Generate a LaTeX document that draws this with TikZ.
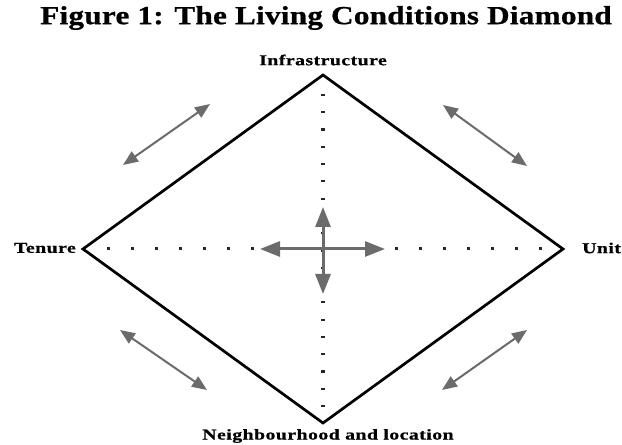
\documentclass[tikz,border=0pt]{standalone}
\usepackage{fontspec}
\setmainfont{Liberation Serif}
\newfontfamily\lblfont{Liberation Serif}[FakeStretch=1.32, LetterSpace=3, FakeBold=0.8]
\newfontfamily\ttlfont{Liberation Serif}[FakeStretch=1.2, LetterSpace=1, FakeBold=0.8]
\usetikzlibrary{arrows.meta}
\definecolor{arrgray}{HTML}{6B6B6B}
\tikzset{
  edgeline/.style={line width=2.7pt, black, line join=miter},
  bigarrow/.style={arrgray, line width=3pt, {Triangle[length=20pt,width=15pt]}-{Triangle[length=20pt,width=15pt]}},
  diagarrow/.style={arrgray, line width=2pt, {Triangle[length=15pt,width=12pt]}-{Triangle[length=15pt,width=12pt]}},
  vlabel/.style={font=\lblfont\bfseries\fontsize{15}{17}\selectfont, inner sep=0pt},
  titlelabel/.style={font=\ttlfont\bfseries\fontsize{26}{30}\selectfont, inner sep=0pt},
  hdot/.style={fill=black!85, minimum width=3pt, minimum height=3pt, inner sep=0pt, draw=none},
  vdot/.style={fill=black!85, minimum width=4pt, minimum height=2.2pt, inner sep=0pt, draw=none}
}
\begin{document}
\begin{tikzpicture}[x=1pt,y=1pt]
\useasboundingbox (0,0) rectangle (622,445);
% title
\node[titlelabel] (title) at (326,427) {Figure 1: The Living Conditions Diamond};
% diamond vertices
\coordinate (T) at (323,370);
\coordinate (B) at (323,22);
\coordinate (L) at (83,196);
\coordinate (R) at (563,196);
% labels
\node[vlabel] (infra) at (323,385) {Infrastructure};
\node[vlabel, anchor=east] (tenure) at (76,197) {Tenure};
\node[vlabel, anchor=west] (unit) at (582,197) {Unit};
\node[vlabel] (neigh) at (328,9) {Neighbourhood and location};
% dotted lines
\foreach \i in {0,...,18} {
  \node[hdot] (h\i) at ({108+24*\i},196) {};
  \node[vdot] (v\i) at (323,{350-17.28*\i}) {};
}
% diamond
\draw[edgeline] (T) -- (R) -- (B) -- (L) -- cycle;
% centre arrows
\coordinate (cl) at (260,196);
\coordinate (cr) at (385,196);
\coordinate (ct) at (323,238);
\coordinate (cb) at (323,151);
\draw[bigarrow] (cl) -- (cr);
\draw[bigarrow] (ct) -- (cb);
% diagonal arrows
\coordinate (tl1) at (123,280); \coordinate (tl2) at (210,341);
\coordinate (tr1) at (443,340); \coordinate (tr2) at (527,279);
\coordinate (bl1) at (120,115); \coordinate (bl2) at (207,55);
\coordinate (br1) at (442,55);  \coordinate (br2) at (527,115);
\draw[diagarrow] (tl1) -- (tl2);
\draw[diagarrow] (tr1) -- (tr2);
\draw[diagarrow] (bl1) -- (bl2);
\draw[diagarrow] (br1) -- (br2);
\end{tikzpicture}
\end{document}
